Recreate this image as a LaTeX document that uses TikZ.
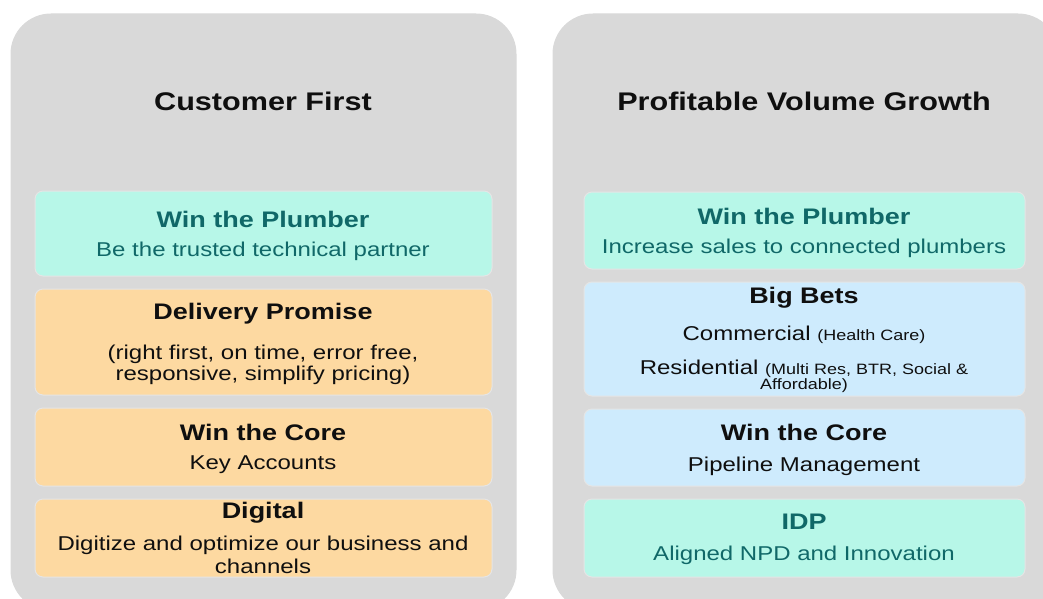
\documentclass[tikz,border=0pt]{standalone}
\usepackage{fontspec}
\setmainfont{Liberation Sans}[FakeStretch=1.2]
\usetikzlibrary{positioning}
\definecolor{panelgray}{RGB}{217,217,217}
\definecolor{mteal}{RGB}{183,247,232}
\definecolor{morange}{RGB}{253,217,161}
\definecolor{mblue}{RGB}{206,235,253}
\definecolor{tealtext}{RGB}{16,104,104}
\definecolor{inktext}{RGB}{15,15,15}
\tikzset{panel/.style = {fill=panelgray, draw=black!15, line width=1pt, rounded corners=40pt},
         card/.style = {draw=white!90!black, line width=1pt, rounded corners=8pt, inner sep=0pt},
         paneltitle/.style = {font=\bfseries\fontsize{25.5}{28}\selectfont, text=inktext, inner sep=0pt},
         cardhead/.style = {font=\bfseries\fontsize{22.5}{25}\selectfont, inner sep=0pt},
         cardbody/.style = {font=\fontsize{20}{22}\selectfont, inner sep=0pt},
         cardnote/.style = {font=\fontsize{15}{16}\selectfont, inner sep=0pt}}
\newcommand{\notesize}{\fontsize{15}{16}\selectfont}

\begin{document}
\begin{tikzpicture}[x=1pt, y=-1pt]
    \useasboundingbox (0, 0) rectangle (1043, 599);
    \clip (0, 0) rectangle (1043, 599);

    % panels
    \draw [panel] (11, 14) rectangle (516, 610);
    \draw [panel] (553, 14) rectangle (1058, 610);

    \node [paneltitle] (ltitle) at (263, 101) {Customer First};
    \node [paneltitle] (rtitle) at (804, 101) {Profitable Volume Growth};

    % left cards
    \node [card, fill=mteal, minimum width=457pt, minimum height=85pt] (lplumber) at (263.5, 233.5) {};
    \node [card, fill=morange, minimum width=457pt, minimum height=106pt] (lpromise) at (263.5, 342) {};
    \node [card, fill=morange, minimum width=457pt, minimum height=78pt] (lcore) at (263.5, 447) {};
    \node [card, fill=morange, minimum width=457pt, minimum height=78pt] (ldigital) at (263.5, 538) {};

    \node [cardhead, text=tealtext] (lplumberhead) at (263, 219) {Win the Plumber};
    \node [cardbody, text=tealtext] (lplumberbody) at (263, 251) {Be the trusted technical partner};
    \node [cardhead, text=inktext] (lpromisehead) at (263, 314) {Delivery Promise};
    \node [cardbody, text=inktext] (lpromisebodya) at (263, 354) {(right first, on time, error free,};
    \node [cardbody, text=inktext] (lpromisebodyb) at (263, 375) {responsive, simplify pricing)};
    \node [cardhead, text=inktext] (lcorehead) at (263, 432) {Win the Core};
    \node [cardbody, text=inktext] (lcorebody) at (263, 465) {Key Accounts};
    \node [cardhead, text=inktext] (ldigitalhead) at (263, 513) {Digital};
    \node [cardbody, text=inktext] (ldigitalbodya) at (263, 545) {Digitize and optimize our business and};
    \node [cardbody, text=inktext] (ldigitalbodyb) at (263, 566) {channels};

    % right cards
    \node [card, fill=mteal, minimum width=441pt, minimum height=77pt] (rplumber) at (804.5, 230.5) {};
    \node [card, fill=mblue, minimum width=441pt, minimum height=114pt] (rbets) at (804.5, 339) {};
    \node [card, fill=mblue, minimum width=441pt, minimum height=77pt] (rcore) at (804.5, 447.5) {};
    \node [card, fill=mteal, minimum width=441pt, minimum height=78pt] (ridp) at (804.5, 538) {};

    \node [cardhead, text=tealtext] (rplumberhead) at (804, 216) {Win the Plumber};
    \node [cardbody, text=tealtext] (rplumberbody) at (804, 248) {Increase sales to connected plumbers};
    \node [cardhead, text=inktext] (rbetshead) at (804, 298) {Big Bets};
    \node [cardbody, text=inktext] (rbetscomm) at (804, 335) {Commercial {\notesize(Health Care)}};
    \node [cardbody, text=inktext] (rbetsres) at (804, 369) {Residential {\notesize(Multi Res, BTR, Social \&}};
    \node [cardnote, text=inktext] (rbetsresb) at (804, 386) {Affordable)};
    \node [cardhead, text=inktext] (rcorehead) at (804, 432) {Win the Core};
    \node [cardbody, text=inktext] (rcorebody) at (804, 466) {Pipeline Management};
    \node [cardhead, text=tealtext] (ridphead) at (804, 522) {IDP};
    \node [cardbody, text=tealtext] (ridpbody) at (804, 555) {Aligned NPD and Innovation};
\end{tikzpicture}
\end{document}
